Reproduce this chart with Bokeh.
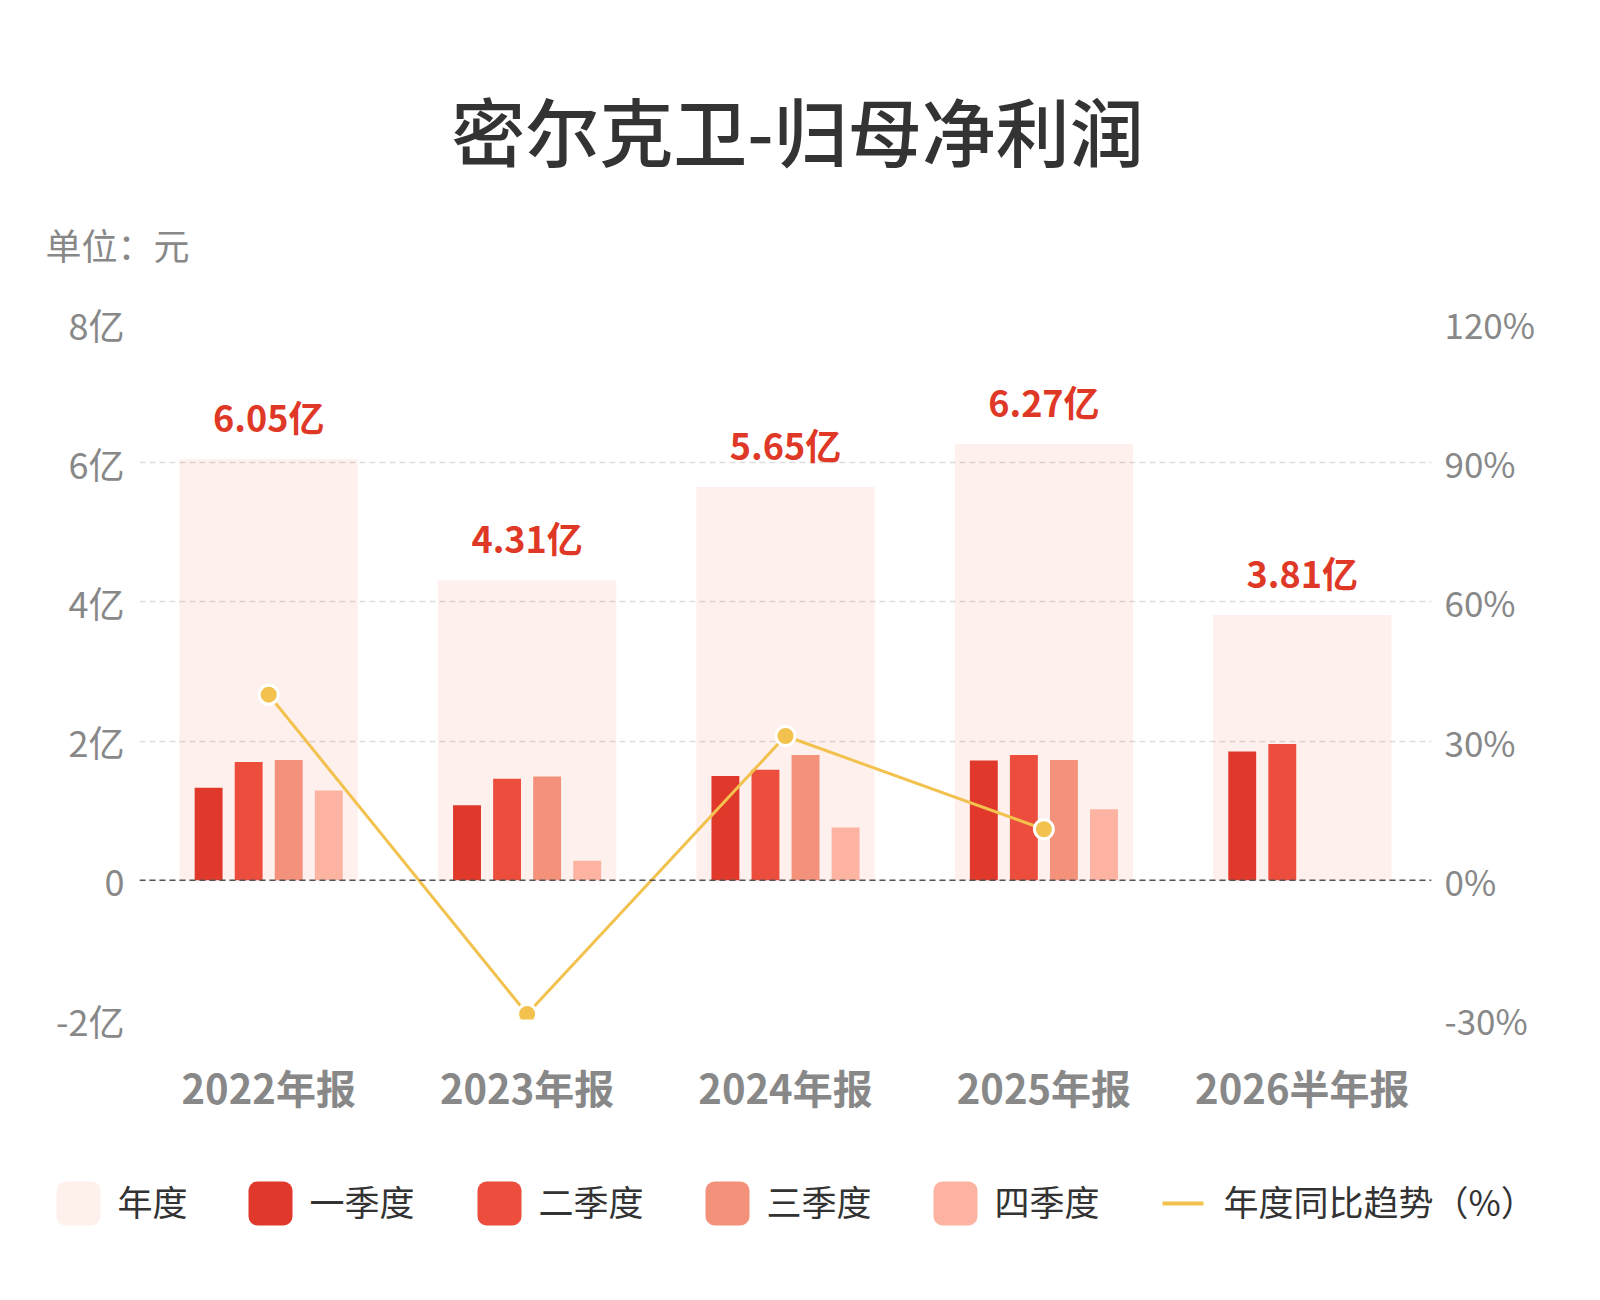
from bokeh.plotting import figure
from bokeh.models import Range1d, LinearAxis, FixedTicker, Span, ColumnDataSource, Quad, Plot
from bokeh.layouts import column
from bokeh.embed import file_html
from bokeh.resources import INLINE
from bokeh.core.properties import value
from bokeh.transform import dodge

# ---------------- data ----------------
title_text = "密尔克卫-归母净利润"
unit_text = "单位：元"
categories = ["2022年报", "2023年报", "2024年报", "2025年报", "2026半年报"]
annual = [6.05, 4.31, 5.65, 6.27, 3.81]          # 亿元
annual_labels = ["6.05亿", "4.31亿", "5.65亿", "6.27亿", "3.81亿"]
q1 = [1.33, 1.08, 1.50, 1.72, 1.85]
q2 = [1.70, 1.46, 1.59, 1.80, 1.96]
q3 = [1.73, 1.49, 1.80, 1.73]
q4 = [1.29, 0.28, 0.76, 1.02]
q34_categories = categories[:4]
yoy_categories = categories[:4]
yoy = [40.0, -28.8, 31.1, 11.0]                  # %
left_ticks = [-2, 0, 2, 4, 6, 8]
left_tick_labels = ["-2亿", "0", "2亿", "4亿", "6亿", "8亿"]
right_ticks = [-30, 0, 30, 60, 90, 120]
right_tick_labels = ["-30%", "0%", "30%", "60%", "90%", "120%"]
legend_names = ["年度", "一季度", "二季度", "三季度", "四季度", "年度同比趋势（%）"]

# ---------------- style ----------------
FONT_NAME = "Noto Sans CJK SC"
FONT = value(FONT_NAME)
TITLE_FONT = value("'Noto Sans CJK SC Medium', 'Noto Sans CJK SC'")
C_ANNUAL = "#f2501e"
C_Q = ["#e0382a", "#ec4d3d", "#f3917a", "#fcb3a2"]
C_LINE = "#f2c14e"
C_LABEL_RED = "#e03826"
GRAY = "#888888"
W = 1584
OFF = 1          # page offset of the canvas in the screenshot
HDR_H = 297
MAIN_H = 850
LEG_H = 120
main_top = OFF + HDR_H
leg_top = main_top + MAIN_H

can_unalign = "frame_align" in Plot.properties()

def blank(height, top):
    f = figure(width=W, height=height, x_range=Range1d(OFF, OFF + W),
               y_range=Range1d(top + height, top),
               output_backend="svg", toolbar_location=None, min_border=0,
               x_axis_type=None, y_axis_type=None, outline_line_color=None)
    f.grid.visible = False
    if can_unalign:
        f.frame_align = False
    return f

# ---------------- header ----------------
hdr = blank(HDR_H, OFF)
hdr.text(x=[798], y=[128.5], text=[title_text], text_align="center", text_baseline="middle",
         text_font=TITLE_FONT, text_font_size="74px", text_color="#333333")
hdr.text(x=[46], y=[244.5], text=[unit_text], text_align="left", text_baseline="middle",
         text_font=FONT, text_font_size="36px", text_color=GRAY)

# ---------------- main chart ----------------
p = figure(width=W, height=MAIN_H, x_range=categories, y_range=Range1d(-2, 8),
           output_backend="svg", toolbar_location=None,
           min_border_left=140 - OFF, min_border_right=W - (1432 - OFF),
           min_border_top=324 - main_top, min_border_bottom=leg_top - 1020,
           outline_line_color=None)
if can_unalign:
    p.frame_align = False
p.extra_y_ranges = {"pct": Range1d(-30, 120)}

src = ColumnDataSource(dict(cat=categories, annual=annual, label=annual_labels, q1=q1, q2=q2))
src34 = ColumnDataSource(dict(cat=q34_categories, q3=q3, q4=q4))

p.vbar(x="cat", top="annual", bottom=0, width=0.69, source=src,
       fill_color=C_ANNUAL, fill_alpha=0.08, line_color=None)
offsets = [-0.2325, -0.0775, 0.0775, 0.2325]
bw = 0.108
p.vbar(x=dodge("cat", offsets[0], range=p.x_range), top="q1", width=bw, source=src,
       fill_color=C_Q[0], line_color=None)
p.vbar(x=dodge("cat", offsets[1], range=p.x_range), top="q2", width=bw, source=src,
       fill_color=C_Q[1], line_color=None)
p.vbar(x=dodge("cat", offsets[2], range=p.x_range), top="q3", width=bw, source=src34,
       fill_color=C_Q[2], line_color=None)
p.vbar(x=dodge("cat", offsets[3], range=p.x_range), top="q4", width=bw, source=src34,
       fill_color=C_Q[3], line_color=None)

p.text(x="cat", y="annual", text="label", source=src, y_offset=-43,
       text_align="center", text_baseline="middle", text_font=FONT,
       text_font_size="36px", text_font_style="bold", text_color=C_LABEL_RED)

p.line(x=yoy_categories, y=yoy, y_range_name="pct", line_color=C_LINE, line_width=3)
p.scatter(x=yoy_categories, y=yoy, y_range_name="pct", marker="circle", size=19,
          fill_color=C_LINE, line_color="white", line_width=3)

p.add_layout(Span(location=0, dimension="width", line_color="#555555",
                  line_dash="6 4", line_width=1.6))

# grid
p.xgrid.visible = False
p.ygrid.ticker = FixedTicker(ticks=left_ticks)
p.ygrid.grid_line_color = "#dddddd"
p.ygrid.grid_line_dash = "6 4"
p.ygrid.grid_line_width = 1.4

def style_axis(ax, standoff, size, bold=False):
    ax.axis_line_color = None
    ax.major_tick_line_color = None
    ax.minor_tick_line_color = None
    ax.major_tick_out = 0
    ax.major_tick_in = 0
    ax.minor_tick_out = 0
    ax.major_label_standoff = standoff
    ax.major_label_text_font = FONT_NAME
    ax.major_label_text_font_size = size
    ax.major_label_text_color = GRAY
    if bold:
        ax.major_label_text_font_style = "bold"

# left axis
la = p.left[0]
la.ticker = FixedTicker(ticks=left_ticks)
la.major_label_overrides = {t: s for t, s in zip(left_ticks, left_tick_labels)}
style_axis(la, 15, "36px")

# right axis
ra = LinearAxis(y_range_name="pct", ticker=FixedTicker(ticks=right_ticks),
                major_label_overrides={t: s for t, s in zip(right_ticks, right_tick_labels)})
style_axis(ra, 13, "35px")
p.add_layout(ra, "right")

# x axis
style_axis(p.below[0], 38, "40px", bold=True)

# ---------------- legend ----------------
lg = blank(LEG_H, leg_top)
sw_left = [57, 249, 478, 706, 934]
sw_colors = ["#fef0eb"] + C_Q
kw = {"border_radius": 9} if "border_radius" in Quad.properties() else {}
lg.quad(left=sw_left, right=[x + 44 for x in sw_left], top=[1182] * 5, bottom=[1226] * 5,
        fill_color=sw_colors, line_color=None, **kw)
lg.segment(x0=[1163], y0=[1204], x1=[1204], y1=[1204], line_color=C_LINE, line_width=4)
txt_x = [118, 310, 539, 767, 995, 1224]
lg.text(x=txt_x, y=[1201] * 6, text=legend_names, text_align="left", text_baseline="middle",
        text_font=FONT, text_font_size="35px", text_color="#333333")

layout = column(hdr, p, lg)
open("out.html", "w").write(file_html(layout, INLINE))
